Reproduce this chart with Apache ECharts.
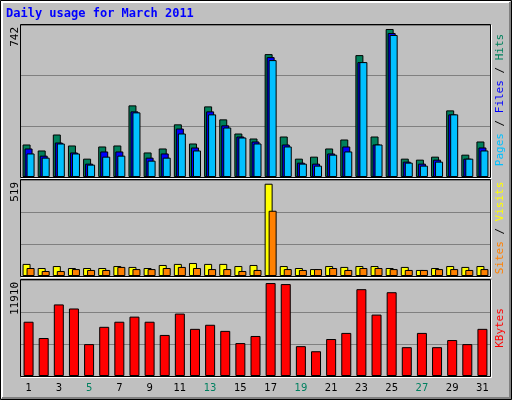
<!DOCTYPE html>
<html><head><meta charset="utf-8">
<script src="https://cdn.jsdelivr.net/npm/echarts@6/dist/echarts.min.js"></script>
<style>html,body{margin:0;padding:0;background:#c0c0c0}#c{width:512px;height:400px}</style>
</head><body><div id="c"></div>
<script>
const days = Array.from({length:31},(_,i)=>String(i+1));
const weekendDays = ['5','6','12','13','19','20','26','27'];
const hits  = [163,133,213,158,92,153,158,359,123,143,264,168,354,289,218,193,616,203,92,102,143,188,611,203,742,92,87,102,334,112,178];
const files = [143,107,173,123,67,128,128,329,97,118,243,148,329,259,203,178,601,163,72,67,118,153,576,163,722,77,67,87,314,92,148];
const pages = [118,97,168,118,62,102,107,324,82,97,218,133,314,248,198,168,586,153,67,57,112,128,576,163,712,72,57,77,314,92,133];
const visits= [68,45,56,45,45,45,56,51,45,62,68,73,68,68,56,62,519,56,45,39,56,51,56,56,45,51,34,45,56,51,56];
const sites = [45,28,28,39,34,34,51,39,39,45,51,45,39,39,28,34,367,39,34,39,45,34,45,45,39,34,34,39,39,34,39];
const kbytes= [6955,4869,9172,8651,4086,6303,6955,7607,6955,5260,7998,6042,6564,5782,4217,5129,11910,11780,3825,3173,4738,5521,11128,7868,10737,3695,5521,3695,4608,4086,6042];
const maxLabels = ['742','519','11910'];
const axisMax = [762, 540, 12302];

const grids=[{left:21,right:22,top:25,height:152},{left:21,right:22,top:180,height:96},{left:21,right:22,top:280,height:96}];
const ch = echarts.init(document.getElementById('c'));
const bs = (c)=>({color:c,borderColor:'#000',borderWidth:1});
const xA = grids.map((g,i)=>({type:'category',gridIndex:i,data:days,
  axisTick:{show:false},axisLine:{show:false},
  axisLabel:{show:i===2,fontFamily:'DejaVu Sans',fontSize:10,margin:7,
    color:(v)=>weekendDays.includes(v)?'#008060':'#000'}}));
const yA = grids.map((g,i)=>({type:'value',gridIndex:i,min:0,max:axisMax[i],interval:axisMax[i]/3,
  axisLabel:{show:false},axisLine:{show:false},axisTick:{show:false},
  splitLine:{lineStyle:{color:'#808080',width:1}}}));
const series=[
 {type:'bar',xAxisIndex:0,yAxisIndex:0,data:hits,barWidth:8,barGap:'-75%',itemStyle:bs('#00805c')},
 {type:'bar',xAxisIndex:0,yAxisIndex:0,data:files,barWidth:8,barGap:'-75%',itemStyle:bs('#0000ff')},
 {type:'bar',xAxisIndex:0,yAxisIndex:0,data:pages,barWidth:8,barGap:'-75%',itemStyle:bs('#00c0ff')},
 {type:'bar',xAxisIndex:1,yAxisIndex:1,data:visits,barWidth:8,barGap:'-50%',itemStyle:bs('#ffff00')},
 {type:'bar',xAxisIndex:1,yAxisIndex:1,data:sites,barWidth:8,barGap:'-50%',itemStyle:bs('#ff8000')},
 {type:'bar',xAxisIndex:2,yAxisIndex:2,data:kbytes,barWidth:10,itemStyle:bs('#ff0000')}
];
const gfx=[
 {type:'rect',shape:{x:0.5,y:0.5,width:511,height:399},style:{fill:'none',stroke:'#000',lineWidth:1},z:-1},
 {type:'polyline',shape:{points:[[2,398],[2,2],[510,2]]},style:{stroke:'#fff',lineWidth:2,fill:'none'},z:-1},
 {type:'polyline',shape:{points:[[2,398],[510,398],[510,2]]},style:{stroke:'#808080',lineWidth:2,fill:'none'},z:-1},
 {type:'text',left:6,top:8,style:{text:'Daily usage for March 2011',fill:'#0000ff',font:'bold 12px "DejaVu Sans Mono"'}},
];
const rightTexts=[
 {y:100, rich:[['Pages','#00c0ff'],[' / ','#000'],['Files','#0000ff'],[' / ','#000'],['Hits','#00805c']]},
 {y:228, rich:[['Sites','#ff8000'],[' / ','#000'],['Visits','#ffff00']]},
 {y:328, rich:[['KBytes','#ff0000']]}
];
rightTexts.forEach((r,i)=>{
  const g=grids[i];
  gfx.push({type:'rect',shape:{x:20.5,y:g.top-0.5,width:470,height:g.height+1},style:{fill:'none',stroke:'#000',lineWidth:1},z:10});
  gfx.push({type:'polyline',shape:{points:[[21,g.top+g.height+1.5],[491.5,g.top+g.height+1.5],[491.5,g.top]]},style:{stroke:'#fff',lineWidth:1,fill:'none'},z:10});
  const rich={};let txt='';
  r.rich.forEach((p,k)=>{rich['s'+k]={fill:p[1],font:'11px "DejaVu Sans Mono"'};txt+='{s'+k+'|'+p[0]+'}';});
  gfx.push({type:'text',x:500,y:r.y,rotation:Math.PI/2,style:{text:txt,rich:rich,align:'center',verticalAlign:'middle'}});
  gfx.push({type:'text',x:15,y:g.top+2,rotation:Math.PI/2,style:{text:maxLabels[i],fill:'#000',font:'11px "DejaVu Sans Mono"',align:'right',verticalAlign:'middle'}});
});
ch.setOption({animation:false,backgroundColor:'#c0c0c0',
  grid:grids.map(g=>Object.assign({show:true,backgroundColor:'#c0c0c0',borderWidth:0},g)),
  xAxis:xA,yAxis:yA,series:series,graphic:gfx});
</script></body></html>
